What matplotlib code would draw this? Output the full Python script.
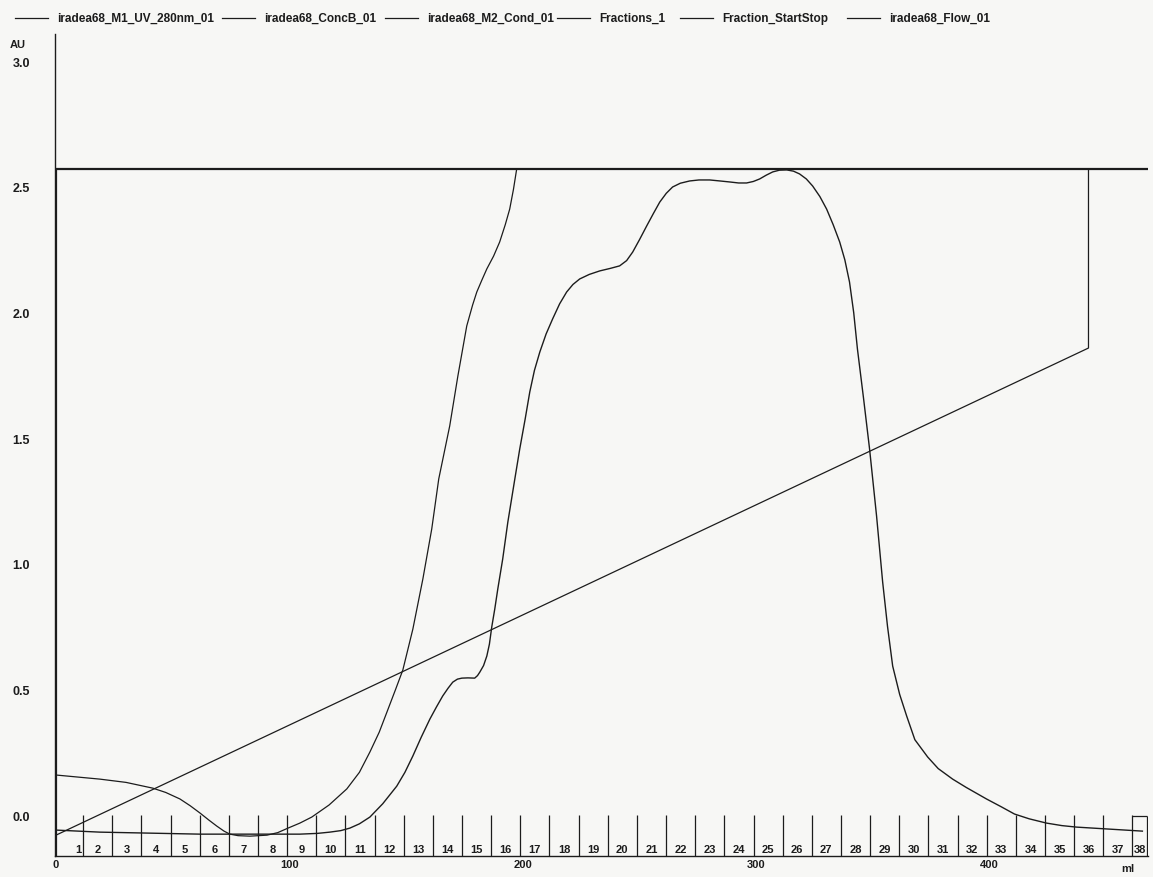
import matplotlib
matplotlib.use("Agg")
import matplotlib.pyplot as plt
from matplotlib.lines import Line2D

# UV 280 nm absorbance trace (ml, AU)
uv_ml = [0.4, 18.8, 61.7, 104.5, 112.0, 117.3, 122.0, 125.9, 130.0, 134.5,
         140.0, 146.0, 149.5, 152.9, 156.5, 160.2, 163.0, 165.7, 168.0, 170.0,
         172.0, 173.9, 176.5, 179.4, 180.6, 181.6, 183.2, 184.6, 185.7, 186.7,
         188.0, 189.3, 191.4, 193.6, 196.6, 198.7, 201.0, 203.0, 205.0, 207.3,
         210.0, 212.8, 215.8, 218.8, 221.5, 224.4, 228.5, 233.0, 237.5, 241.5,
         244.5, 247.1, 250.0, 253.1, 256.0, 258.7, 261.5, 264.2, 267.5, 271.5,
         275.5, 280.1, 284.5, 288.7, 292.5, 295.9, 298.8, 301.5, 304.3, 307.1,
         310.0, 313.1, 316.0, 318.6, 321.5, 324.2, 327.3, 330.2, 333.0, 335.8,
         338.0, 340.0, 341.8, 343.4, 346.0, 348.6, 351.6, 354.2, 356.3, 358.5,
         361.5, 364.5, 368.0, 373.5, 378.0, 384.2, 390.0, 398.7, 405.0, 410.7,
         417.0, 424.4, 431.0, 437.3, 451.4, 465.5]
uv_au = [-0.060, -0.068, -0.076, -0.076, -0.073, -0.068, -0.062, -0.052, -0.035,
         -0.008, 0.045, 0.115, 0.170, 0.235, 0.310, 0.382, 0.430, 0.474, 0.505,
         0.529, 0.541, 0.545, 0.546, 0.545, 0.555, 0.569, 0.595, 0.633, 0.680,
         0.748, 0.820, 0.900, 1.019, 1.166, 1.338, 1.457, 1.575, 1.684, 1.770,
         1.843, 1.915, 1.975, 2.035, 2.082, 2.112, 2.134, 2.152, 2.166, 2.176,
         2.186, 2.207, 2.241, 2.290, 2.345, 2.395, 2.440, 2.475, 2.500, 2.515,
         2.524, 2.528, 2.528, 2.524, 2.520, 2.516, 2.516, 2.522, 2.532, 2.547,
         2.560, 2.567, 2.568, 2.563, 2.552, 2.532, 2.504, 2.462, 2.412, 2.350,
         2.281, 2.210, 2.122, 2.000, 1.855, 1.660, 1.457, 1.190, 0.928, 0.750,
         0.593, 0.480, 0.394, 0.300, 0.231, 0.185, 0.143, 0.110, 0.064, 0.033,
         0.004, -0.015, -0.032, -0.042, -0.048, -0.056, -0.064]

# Conductivity trace, plotted on the AU scale
cond_ml = [0.4, 18.8, 30.0, 41.5, 47.0, 53.1, 57.5, 61.7, 65.5, 68.9, 72.0,
           74.5, 78.0, 83.1, 90.4, 95.0, 99.4, 104.5, 109.6, 117.0, 124.6,
           130.0, 134.5, 138.5, 141.8, 145.5, 148.6, 152.9, 157.2, 161.0, 164.0,
           168.7, 172.2, 176.0, 178.5, 180.3, 182.5, 184.6, 187.5, 190.1, 192.5,
           194.4, 196.0, 197.4, 467.9]
cond_au = [0.159, 0.143, 0.130, 0.107, 0.090, 0.064, 0.037, 0.008, -0.020,
           -0.044, -0.064, -0.076, -0.082, -0.084, -0.080, -0.070, -0.052,
           -0.032, -0.008, 0.040, 0.104, 0.170, 0.251, 0.330, 0.410, 0.500,
           0.577, 0.740, 0.940, 1.139, 1.338, 1.549, 1.748, 1.947, 2.030, 2.082,
           2.130, 2.174, 2.225, 2.281, 2.350, 2.412, 2.490, 2.572, 2.572]

# Concentration of buffer B
concb_ml = [0.0, 442.4, 442.4, 467.9]
concb_au = [-0.080, 1.859, 2.572, 2.572]

# Flow
flow_ml = [0.0, 0.0, 467.9]
flow_au = [-0.163, 2.572, 2.572]

# Fraction boundaries (ml): starts of fractions 2..38, then end of fraction 38
frac_bounds = [11.6, 24.1, 36.6, 49.1, 61.6, 74.0, 86.5, 99.0, 111.5, 124.0,
               136.5, 149.0, 161.5, 174.0, 186.5, 198.9, 211.4, 223.9, 236.4,
               248.9, 261.4, 273.9, 286.4, 298.9, 311.4, 323.8, 336.3, 348.8,
               361.3, 373.8, 386.3, 398.8, 411.3, 423.8, 436.3, 448.8, 461.2]
frac_end = 467.5
frac_labels = [str(i) for i in range(1, 39)]

legend_names = ["iradea68_M1_UV_280nm_01", "iradea68_ConcB_01",
                "iradea68_M2_Cond_01", "Fractions_1", "Fraction_StartStop",
                "iradea68_Flow_01"]

y_ticks = [0.0, 0.5, 1.0, 1.5, 2.0, 2.5, 3.0]
x_ticks = [0, 100, 200, 300, 400]

W, H = 1153, 878
ink = "#1c1c1c"
paper = "#f7f7f5"
font = ["Liberation Sans", "DejaVu Sans"]

fig = plt.figure(figsize=(W / 100, H / 100), dpi=100, facecolor=paper)
ax = fig.add_axes([55 / W, 1 - 857 / H, (1148 - 55) / W, (857 - 35) / H])
ax.set_facecolor(paper)
ax.set_xlim(-0.43, 467.9)
ax.set_ylim(-0.163, 3.109)

for s in ("top", "right"):
    ax.spines[s].set_visible(False)
for s in ("left", "bottom"):
    ax.spines[s].set_color(ink)
    ax.spines[s].set_linewidth(1.0)

ax.plot(flow_ml, flow_au, color=ink, lw=1.6, solid_joinstyle="miter")
ax.plot(concb_ml, concb_au, color=ink, lw=0.9)
ax.plot(cond_ml, cond_au, color=ink, lw=0.9, solid_joinstyle="round")
ax.plot(uv_ml, uv_au, color=ink, lw=1.0, solid_joinstyle="round")

# Fraction marks and labels
ax.vlines(frac_bounds, -0.163, 0.0, color=ink, lw=0.9)
ax.vlines([frac_end], -0.163, -0.004, color=ink, lw=0.9)
ax.hlines([-0.004], frac_bounds[-1], frac_end, color=ink, lw=0.9)
edges = frac_bounds + [frac_end]
for i, lab in enumerate(frac_labels):
    if i == 0:
        x, ha = edges[0] - 0.6, "right"
    else:
        x, ha = (edges[i - 1] + edges[i]) / 2, "center"
    ax.annotate(lab, xy=(x, 0), xycoords=("data", "axes fraction"),
                xytext=(0, 1.5), textcoords="offset points", ha=ha, va="bottom",
                fontsize=8, fontweight="bold", family=font, color=ink)

ax.set_yticks(y_ticks)
ax.set_yticklabels([f"{v:.1f}" for v in y_ticks])
ax.set_xticks(x_ticks)
ax.set_xticklabels([str(v) for v in x_ticks])
ax.tick_params(axis="y", length=0, pad=18)
ax.tick_params(axis="x", length=0, pad=2)
for lab in ax.get_yticklabels():
    lab.set_fontsize(9)
    lab.set_fontweight("bold")
    lab.set_family(font)
    lab.set_color(ink)
for lab in ax.get_xticklabels():
    lab.set_fontsize(8)
    lab.set_fontweight("bold")
    lab.set_family(font)
    lab.set_color(ink)

ax.set_yticks([0.0], minor=True)
ax.tick_params(axis="y", which="minor", direction="in", length=9.5,
               width=0.9, color=ink)

fig.text(10 / W, 1 - 45 / H, "AU", fontsize=8, fontweight="bold",
         family=font, color=ink, ha="left", va="center")
fig.text(1128 / W, 1 - 869 / H, "ml", fontsize=8, fontweight="bold",
         family=font, color=ink, ha="center", va="center")

# Legend row across the top
text_starts = [57, 264, 427, 599, 722, 889]
y_leg = 1 - 19 / H
for name, xs in zip(legend_names, text_starts):
    fig.add_artist(Line2D([(xs - 42) / W, (xs - 9) / W], [y_leg, y_leg],
                          color=ink, lw=0.9, transform=fig.transFigure))
    fig.text(xs / W, y_leg, name, fontsize=8.5, fontweight="bold",
             family=font, color=ink, ha="left", va="center")

fig.savefig("out.png", dpi=100, facecolor=paper)
